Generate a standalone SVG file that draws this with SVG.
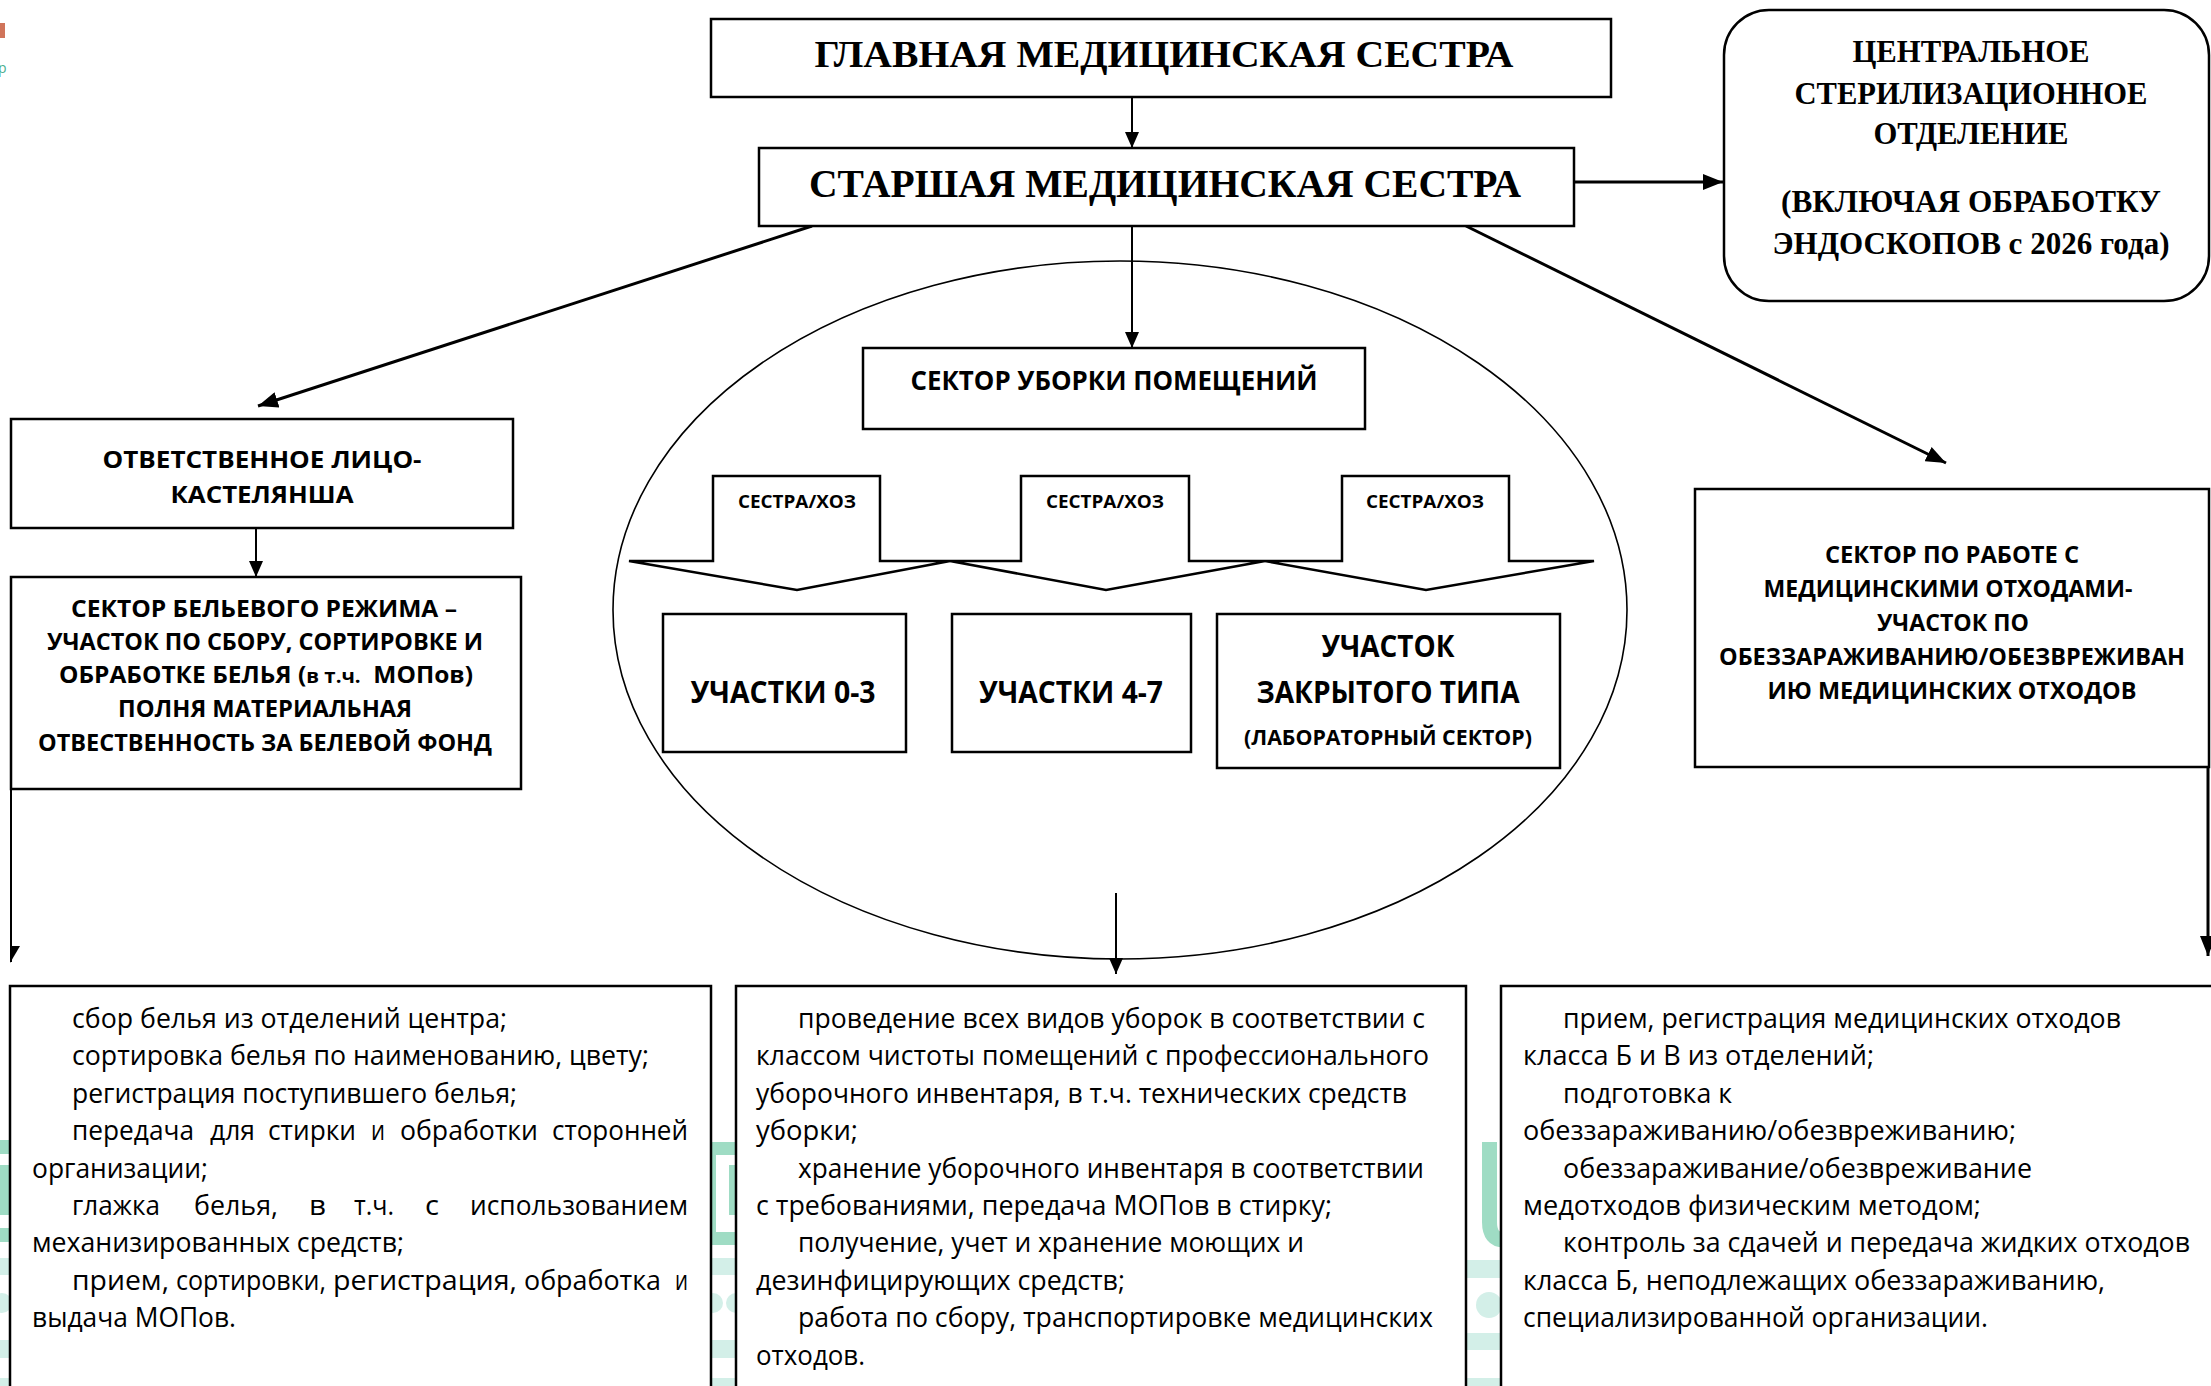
<svg xmlns="http://www.w3.org/2000/svg" width="2211" height="1386" viewBox="0 0 2211 1386">
<style>
.box{fill:#fff;stroke:#000;stroke-width:2.5}
.ell{fill:#fff;stroke:#000;stroke-width:1.6}
.chev{fill:#fff;stroke:#000;stroke-width:2.5;stroke-linejoin:miter}
.ser{font-family:"Liberation Serif","Times New Roman",serif;font-weight:bold;fill:#000;text-anchor:middle}
.hb{font-family:"Open Sans","Liberation Sans",sans-serif;font-weight:bold;fill:#000;text-anchor:middle}
.body{font-family:"Open Sans","Liberation Sans",sans-serif;font-size:27px;fill:#000}
.con{fill:none;stroke:#000;stroke-width:2}
.dia{fill:none;stroke:#000;stroke-width:3}
.wg{fill:#9fdcc4}
.wl{fill:#d3efe8}
</style>
<defs>
<marker id="ah" markerUnits="userSpaceOnUse" markerWidth="16" markerHeight="14" refX="16" refY="7" orient="auto"><path d="M0,0 L16,7 L0,14 z" fill="#000"/></marker>
<marker id="ah2" markerUnits="userSpaceOnUse" markerWidth="20" markerHeight="16" refX="20" refY="8" orient="auto"><path d="M0,0 L20,8 L0,16 z" fill="#000"/></marker>
</defs>
<rect width="2211" height="1386" fill="#fff"/>
<g id="watermark">
<rect x="0" y="23" width="5" height="15" fill="#d0745a"/>
<text x="-2" y="73" font-family="Open Sans, sans-serif" font-size="14" fill="#4cae8f">р</text>
<rect class="wg" x="0" y="1140" width="12" height="14"/>
<rect class="wg" x="0" y="1165" width="12" height="50"/>
<rect class="wg" x="0" y="1228" width="12" height="14"/>
<rect class="wl" x="0" y="1258" width="12" height="17"/>
<circle class="wl" cx="2" cy="1303" r="10"/>
<rect class="wl" x="0" y="1340" width="12" height="18"/>
<rect class="wl" x="0" y="1378" width="12" height="8"/>
<rect class="wg" x="711" y="1142" width="25" height="13"/>
<rect class="wg" x="711" y="1142" width="5" height="103"/>
<rect class="wg" x="729" y="1165" width="7" height="50"/>
<rect class="wg" x="711" y="1232" width="25" height="13"/>
<rect class="wl" x="711" y="1258" width="25" height="17"/>
<circle class="wl" cx="713" cy="1303" r="10"/>
<circle class="wl" cx="736" cy="1303" r="10"/>
<rect class="wl" x="711" y="1340" width="25" height="18"/>
<rect class="wl" x="711" y="1378" width="25" height="8"/>
<path d="M1489.5,1142 V1222 Q1489.5,1240 1504,1240" fill="none" stroke="#9fdcc4" stroke-width="15"/>
<rect class="wl" x="1466" y="1260" width="35" height="18"/>
<circle class="wl" cx="1489" cy="1305" r="13"/>
<rect class="wl" x="1466" y="1333" width="35" height="17"/>
<rect class="wl" x="1466" y="1378" width="35" height="8"/>
</g>
<g id="cleaning-sector-ellipse">
<ellipse class="ell" cx="1120" cy="610" rx="507" ry="349"/>
</g>
<g id="connectors">
<path class="con" d="M1132,97 V148" marker-end="url(#ah)"/>
<path class="con" d="M1132,226 V348" marker-end="url(#ah)"/>
<path class="dia" d="M1574,182 H1723" marker-end="url(#ah2)"/>
<path class="dia" d="M812,226 L258,406" marker-end="url(#ah2)"/>
<path class="dia" d="M1466,226 L1946,463" marker-end="url(#ah2)"/>
<path class="con" d="M256,515 V577" marker-end="url(#ah)"/>
<path class="con" d="M11,789 V962"/>
<polygon points="10,946 20,946 10,963" fill="#000"/>
<path class="con" d="M1116,893 V974" marker-end="url(#ah)"/>
<path class="dia" d="M2208,767 V956" marker-end="url(#ah2)"/>
</g>
<g id="chief-nurse">
<rect class="box" x="711" y="19" width="900" height="78"/>
<text class="ser" x="1164" y="67" font-size="38.5" textLength="699" lengthAdjust="spacingAndGlyphs">ГЛАВНАЯ МЕДИЦИНСКАЯ СЕСТРА</text>
</g>
<g id="senior-nurse">
<rect class="box" x="759" y="148" width="815" height="78"/>
<text class="ser" x="1165" y="197" font-size="39" textLength="712" lengthAdjust="spacingAndGlyphs">СТАРШАЯ МЕДИЦИНСКАЯ СЕСТРА</text>
</g>
<g id="central-sterilization">
<rect class="box" x="1724" y="10" width="485" height="291" rx="45" ry="45"/>
<text class="ser" x="1971" y="62" font-size="30.5" textLength="237" lengthAdjust="spacingAndGlyphs">ЦЕНТРАЛЬНОЕ</text>
<text class="ser" x="1971" y="104" font-size="30.5" textLength="353" lengthAdjust="spacingAndGlyphs">СТЕРИЛИЗАЦИОННОЕ</text>
<text class="ser" x="1971" y="144" font-size="30.5" textLength="195" lengthAdjust="spacingAndGlyphs">ОТДЕЛЕНИЕ</text>
<text class="ser" x="1971" y="212" font-size="30.5" textLength="380" lengthAdjust="spacingAndGlyphs">(ВКЛЮЧАЯ ОБРАБОТКУ</text>
<text class="ser" x="1971" y="254" font-size="30.5" textLength="397" lengthAdjust="spacingAndGlyphs">ЭНДОСКОПОВ с 2026 года)</text>
</g>
<g id="castellan">
<rect class="box" x="11" y="419" width="502" height="109"/>
<text class="hb" x="262" y="468" font-size="24" textLength="319" lengthAdjust="spacingAndGlyphs">ОТВЕТСТВЕННОЕ ЛИЦО-</text>
<text class="hb" x="262" y="503" font-size="24" textLength="183" lengthAdjust="spacingAndGlyphs">КАСТЕЛЯНША</text>
</g>
<g id="linen-sector">
<rect class="box" x="11" y="577" width="510" height="212"/>
<text class="hb" x="264" y="617" font-size="24" textLength="386" lengthAdjust="spacingAndGlyphs">СЕКТОР БЕЛЬЕВОГО РЕЖИМА –</text>
<text class="hb" x="265" y="650" font-size="24" textLength="436" lengthAdjust="spacingAndGlyphs">УЧАСТОК ПО СБОРУ, СОРТИРОВКЕ И</text>
<text class="hb" x="266" y="683" font-size="24" textLength="414" lengthAdjust="spacingAndGlyphs" xml:space="preserve">ОБРАБОТКЕ БЕЛЬЯ (<tspan font-size="20">в т.ч.</tspan>  МОПов)</text>
<text class="hb" x="265" y="717" font-size="24" textLength="294" lengthAdjust="spacingAndGlyphs">ПОЛНЯ МАТЕРИАЛЬНАЯ</text>
<text class="hb" x="265" y="751" font-size="24" textLength="454" lengthAdjust="spacingAndGlyphs">ОТВЕСТВЕННОСТЬ ЗА БЕЛЕВОЙ ФОНД</text>
</g>
<g id="cleaning-sector">
<rect class="box" x="863" y="348" width="502" height="81"/>
<text class="hb" x="1114" y="390" font-size="27" textLength="407" lengthAdjust="spacingAndGlyphs">СЕКТОР УБОРКИ ПОМЕЩЕНИЙ</text>
</g>
<g id="nurse-arrow-1">
<polygon class="chev" points="713,476 880,476 880,561 950,561 797,590 629,561 713,561"/>
<text class="hb" x="797" y="508" font-size="18" textLength="118" lengthAdjust="spacingAndGlyphs">СЕСТРА/ХОЗ</text>
</g>
<g id="nurse-arrow-2">
<polygon class="chev" points="1021,476 1189,476 1189,561 1265,561 1106,590 950,561 1021,561"/>
<text class="hb" x="1105" y="508" font-size="18" textLength="118" lengthAdjust="spacingAndGlyphs">СЕСТРА/ХОЗ</text>
</g>
<g id="nurse-arrow-3">
<polygon class="chev" points="1342,476 1509,476 1509,561 1594,561 1426,590 1265,561 1342,561"/>
<text class="hb" x="1425" y="508" font-size="18" textLength="118" lengthAdjust="spacingAndGlyphs">СЕСТРА/ХОЗ</text>
</g>
<g id="areas-0-3">
<rect class="box" x="663" y="614" width="243" height="138"/>
<text class="hb" x="783" y="703" font-size="30" textLength="185" lengthAdjust="spacingAndGlyphs">УЧАСТКИ 0-3</text>
</g>
<g id="areas-4-7">
<rect class="box" x="952" y="614" width="239" height="138"/>
<text class="hb" x="1071" y="703" font-size="30" textLength="184" lengthAdjust="spacingAndGlyphs">УЧАСТКИ 4-7</text>
</g>
<g id="closed-area">
<rect class="box" x="1217" y="614" width="343" height="154"/>
<text class="hb" x="1388" y="657" font-size="30" textLength="133" lengthAdjust="spacingAndGlyphs">УЧАСТОК</text>
<text class="hb" x="1388" y="703" font-size="30" textLength="263" lengthAdjust="spacingAndGlyphs">ЗАКРЫТОГО ТИПА</text>
<text class="hb" x="1388" y="745" font-size="22" textLength="288" lengthAdjust="spacingAndGlyphs">(ЛАБОРАТОРНЫЙ СЕКТОР)</text>
</g>
<g id="waste-sector">
<rect class="box" x="1695" y="489" width="514" height="278"/>
<text class="hb" x="1952" y="563" font-size="24" textLength="254" lengthAdjust="spacingAndGlyphs">СЕКТОР ПО РАБОТЕ С</text>
<text class="hb" x="1948" y="597" font-size="24" textLength="369" lengthAdjust="spacingAndGlyphs">МЕДИЦИНСКИМИ ОТХОДАМИ-</text>
<text class="hb" x="1953" y="631" font-size="24" textLength="152" lengthAdjust="spacingAndGlyphs">УЧАСТОК ПО</text>
<text class="hb" x="1952" y="665" font-size="24" textLength="466" lengthAdjust="spacingAndGlyphs">ОБЕЗЗАРАЖИВАНИЮ/ОБЕЗВРЕЖИВАН</text>
<text class="hb" x="1952" y="699" font-size="24" textLength="369" lengthAdjust="spacingAndGlyphs">ИЮ МЕДИЦИНСКИХ ОТХОДОВ</text>
</g>
<g id="linen-tasks">
<rect class="box" x="10" y="986" width="701" height="420"/>
<text class="body" x="72" y="1028" textLength="435" lengthAdjust="spacingAndGlyphs">сбор белья из отделений центра;</text>
<text class="body" x="72" y="1065.4" textLength="577" lengthAdjust="spacingAndGlyphs">сортировка белья по наименованию, цвету;</text>
<text class="body" x="72" y="1102.8" textLength="445" lengthAdjust="spacingAndGlyphs">регистрация поступившего белья;</text>
<g>
<text class="body" x="72" y="1140.2" textLength="122" lengthAdjust="spacingAndGlyphs">передача</text>
<text class="body" x="210" y="1140.2" textLength="45" lengthAdjust="spacingAndGlyphs">для</text>
<text class="body" x="268" y="1140.2" textLength="88" lengthAdjust="spacingAndGlyphs">стирки</text>
<text class="body" x="371" y="1140.2" textLength="14" lengthAdjust="spacingAndGlyphs">и</text>
<text class="body" x="400" y="1140.2" textLength="138" lengthAdjust="spacingAndGlyphs">обработки</text>
<text class="body" x="552" y="1140.2" textLength="136" lengthAdjust="spacingAndGlyphs">сторонней</text>
</g>
<text class="body" x="32" y="1177.6" textLength="176" lengthAdjust="spacingAndGlyphs">организации;</text>
<g>
<text class="body" x="72" y="1215" textLength="88" lengthAdjust="spacingAndGlyphs">глажка</text>
<text class="body" x="194" y="1215" textLength="84" lengthAdjust="spacingAndGlyphs">белья,</text>
<text class="body" x="309" y="1215" textLength="17" lengthAdjust="spacingAndGlyphs">в</text>
<text class="body" x="354" y="1215" textLength="40" lengthAdjust="spacingAndGlyphs">т.ч.</text>
<text class="body" x="425" y="1215" textLength="14" lengthAdjust="spacingAndGlyphs">с</text>
<text class="body" x="470" y="1215" textLength="218" lengthAdjust="spacingAndGlyphs">использованием</text>
</g>
<text class="body" x="32" y="1252.4" textLength="372" lengthAdjust="spacingAndGlyphs">механизированных средств;</text>
<g>
<text class="body" x="72" y="1289.8" textLength="97" lengthAdjust="spacingAndGlyphs">прием,</text>
<text class="body" x="176" y="1289.8" textLength="150" lengthAdjust="spacingAndGlyphs">сортировки,</text>
<text class="body" x="333" y="1289.8" textLength="184" lengthAdjust="spacingAndGlyphs">регистрация,</text>
<text class="body" x="524" y="1289.8" textLength="137" lengthAdjust="spacingAndGlyphs">обработка</text>
<text class="body" x="675" y="1289.8" textLength="13" lengthAdjust="spacingAndGlyphs">и</text>
</g>
<text class="body" x="32" y="1327.2" textLength="204" lengthAdjust="spacingAndGlyphs">выдача МОПов.</text>
</g>
<g id="cleaning-tasks">
<rect class="box" x="736" y="986" width="730" height="420"/>
<text class="body" x="798" y="1028" textLength="627" lengthAdjust="spacingAndGlyphs">проведение всех видов уборок в соответствии с</text>
<text class="body" x="756" y="1065.4" textLength="673" lengthAdjust="spacingAndGlyphs">классом чистоты помещений с профессионального</text>
<text class="body" x="756" y="1102.8" textLength="651" lengthAdjust="spacingAndGlyphs">уборочного инвентаря, в т.ч. технических средств</text>
<text class="body" x="756" y="1140.2" textLength="102" lengthAdjust="spacingAndGlyphs">уборки;</text>
<text class="body" x="798" y="1177.6" textLength="626" lengthAdjust="spacingAndGlyphs">хранение уборочного инвентаря в соответствии</text>
<text class="body" x="756" y="1215" textLength="576" lengthAdjust="spacingAndGlyphs">с требованиями, передача МОПов в стирку;</text>
<text class="body" x="798" y="1252.4" textLength="506" lengthAdjust="spacingAndGlyphs">получение, учет и хранение моющих и</text>
<text class="body" x="756" y="1289.8" textLength="369" lengthAdjust="spacingAndGlyphs">дезинфицирующих средств;</text>
<text class="body" x="798" y="1327.2" textLength="635" lengthAdjust="spacingAndGlyphs">работа по сбору, транспортировке медицинских</text>
<text class="body" x="756" y="1364.6" textLength="109" lengthAdjust="spacingAndGlyphs">отходов.</text>
</g>
<g id="waste-tasks">
<rect class="box" x="1501" y="986" width="730" height="420"/>
<text class="body" x="1563" y="1028" textLength="558" lengthAdjust="spacingAndGlyphs">прием, регистрация медицинских отходов</text>
<text class="body" x="1523" y="1065.4" textLength="351" lengthAdjust="spacingAndGlyphs">класса Б и В из отделений;</text>
<text class="body" x="1563" y="1102.8" textLength="169" lengthAdjust="spacingAndGlyphs">подготовка к</text>
<text class="body" x="1523" y="1140.2" textLength="493" lengthAdjust="spacingAndGlyphs">обеззараживанию/обезвреживанию;</text>
<text class="body" x="1563" y="1177.6" textLength="469" lengthAdjust="spacingAndGlyphs">обеззараживание/обезвреживание</text>
<text class="body" x="1523" y="1215" textLength="458" lengthAdjust="spacingAndGlyphs">медотходов физическим методом;</text>
<text class="body" x="1563" y="1252.4" textLength="627" lengthAdjust="spacingAndGlyphs">контроль за сдачей и передача жидких отходов</text>
<text class="body" x="1523" y="1289.8" textLength="582" lengthAdjust="spacingAndGlyphs">класса Б, неподлежащих обеззараживанию,</text>
<text class="body" x="1523" y="1327.2" textLength="465" lengthAdjust="spacingAndGlyphs">специализированной организации.</text>
</g>
</svg>
